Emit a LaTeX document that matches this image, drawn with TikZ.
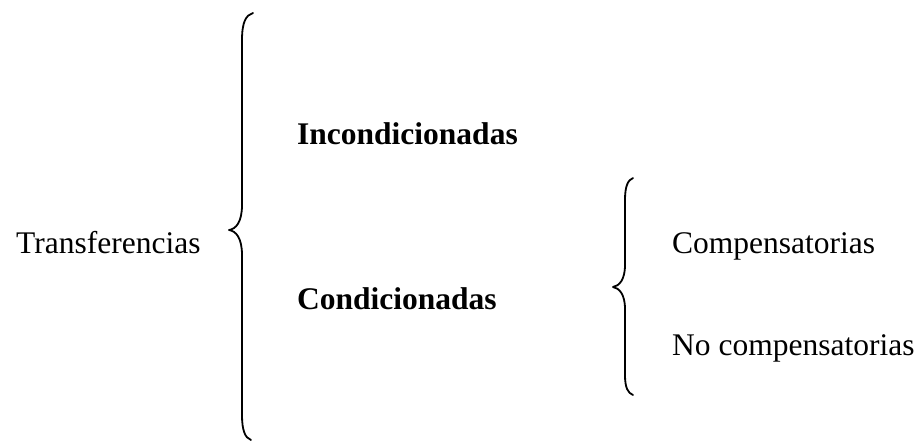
\documentclass[tikz,border=0pt]{standalone}
\usepackage{fontspec}
\setmainfont{Liberation Serif}
\begin{document}
\begin{tikzpicture}[x=1pt,y=-1pt,
  lbl/.style={anchor=base west,inner sep=0pt,font=\fontsize{31.5}{36}\selectfont},
  blbl/.style={lbl,font=\fontsize{31.5}{36}\selectfont\bfseries},
  bracepath/.style={line width=1.8pt,line cap=round,line join=round}]
\useasboundingbox (0,0) rectangle (922,442);
\node[lbl] (transf) at (16,253) {Transferencias};
\node[blbl] (incond) at (297,144) {Incondicionadas};
\node[blbl] (cond) at (297,309) {Condicionadas};
\node[lbl] (comp) at (672,253) {Compensatorias};
\node[lbl] (nocomp) at (672,355) {No compensatorias};
% big brace
\draw[bracepath] (253,13) .. controls (246,15) and (242,22) .. (242,40)
  -- (242,205) .. controls (242,222) and (236,229) .. (229,230)
  .. controls (236,231) and (242,238) .. (242,255)
  -- (242,415) .. controls (242,430) and (245,438) .. (251,440);
% small brace
\draw[bracepath] (633,178) .. controls (628,180) and (625,186) .. (625,200)
  -- (625,265) .. controls (625,280) and (619,286) .. (613,287)
  .. controls (619,288) and (625,294) .. (625,309)
  -- (625,375) .. controls (625,388) and (628,393) .. (633,395);
\end{tikzpicture}
\end{document}
